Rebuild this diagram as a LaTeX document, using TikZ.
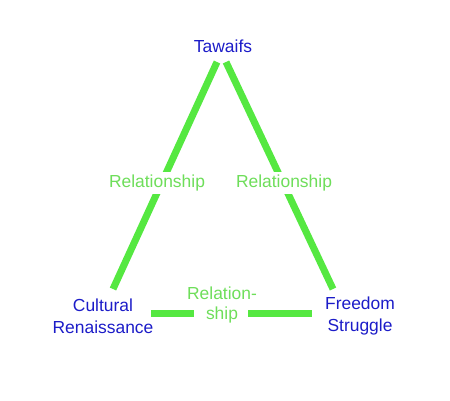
\documentclass[tikz,border=0pt]{standalone}
\usepackage{fontspec}
\setmainfont{Liberation Sans}
\definecolor{nodeblue}{RGB}{28,28,200}
\definecolor{linegreen}{RGB}{85,232,65}
\definecolor{labgreen}{RGB}{110,222,90}
\begin{document}
\begin{tikzpicture}[x=1bp,y=-1bp,
  term/.style={text=nodeblue,font=\fontsize{17.5}{22}\selectfont,align=center,inner sep=0pt},
  rel/.style={text=labgreen,font=\fontsize{17.5}{20}\selectfont,align=center,inner sep=3bp},
  link/.style={draw=linegreen,line width=7bp}]
\useasboundingbox (0,0) rectangle (450,400);
\node[term] (T) at (223,46) {Tawaifs};
\node[term] (C) at (103,316) {Cultural\\Renaissance};
\node[term] (F) at (360,316) {Freedom\\Struggle};
\coordinate (t1) at (217,62);
\coordinate (t2) at (226,62);
\coordinate (c1) at (113,289);
\coordinate (f1) at (333,289);
\coordinate (c2) at (151,313);
\coordinate (g1) at (194,313);
\coordinate (g2) at (248,313);
\coordinate (f2) at (312,313);
\draw[link] (t1) -- (c1);
\draw[link] (t2) -- (f1);
\draw[link] (c2) -- (g1);
\draw[link] (g2) -- (f2);
\node[rel,fill=white] (L1) at (157,183) {Relationship};
\node[rel,fill=white] (L2) at (284,183) {Relationship};
\node[rel] (L3) at (222,305) {Relation-\\ship};
\end{tikzpicture}
\end{document}
